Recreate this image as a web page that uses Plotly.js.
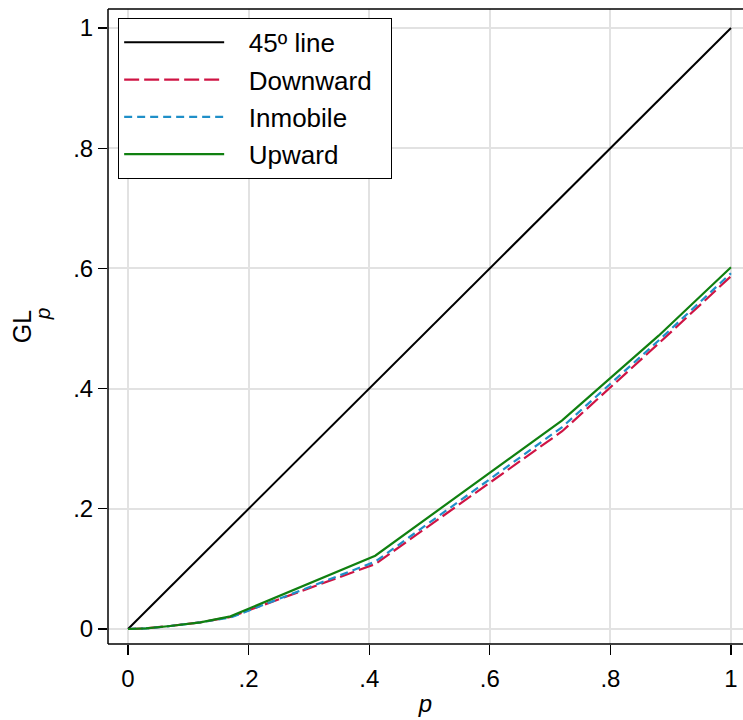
<!DOCTYPE html>
<html>
<head>
<meta charset="utf-8">
<script src="https://cdn.plot.ly/plotly-3.0.1.min.js"></script>
<style>html,body{margin:0;padding:0;background:#fff;overflow:hidden;}#chart{width:743px;height:720px;}</style>
</head>
<body>
<div id="chart"></div>
<script>
// Data (generalized Lorenz curves)
var seriesNames = ["45º line", "Downward", "Inmobile", "Upward"];
var lineP = [0, 1];
var lineGL = [0, 1];
var downP = [0, 0.03, 0.07, 0.12, 0.17, 0.41, 0.72, 0.88, 1];
var downGL = [0, 0.001, 0.005, 0.011, 0.020, 0.108, 0.329, 0.475, 0.587];
var inmoP = [0, 0.03, 0.07, 0.12, 0.17, 0.41, 0.72, 0.88, 1];
var inmoGL = [0, 0.001, 0.005, 0.011, 0.019, 0.112, 0.336, 0.480, 0.592];
var upP = [0, 0.03, 0.07, 0.12, 0.17, 0.41, 0.72, 0.88, 1];
var upGL = [0, 0.001, 0.005, 0.011, 0.021, 0.122, 0.347, 0.488, 0.602];
var tickVals = [0, 0.2, 0.4, 0.6, 0.8, 1];
var tickText = ["0", ".2", ".4", ".6", ".8", "1"];

var font = "Liberation Sans, Arial, Helvetica, sans-serif";
var lead = "\u00a0\u00a0\u2009";
var trail = "\u00a0\u00a0";
var traces = [
  {x: lineP, y: lineGL, name: lead + seriesNames[0] + trail, legendgroup: "a", mode: "lines",
   line: {color: "#000000", width: 2}},
  {x: downP, y: downGL, name: lead + seriesNames[1] + trail, legendgroup: "b", mode: "lines",
   line: {color: "#cf1444", width: 2.2, dash: "15px,5px"}},
  {x: inmoP, y: inmoGL, name: lead + seriesNames[2] + trail, legendgroup: "c", mode: "lines",
   line: {color: "#1f8fc8", width: 2.2, dash: "8px,5px"}},
  {x: upP, y: upGL, name: lead + seriesNames[3] + trail, legendgroup: "d", mode: "lines",
   line: {color: "#108010", width: 2.2}}
];
var layout = {
  width: 743, height: 720,
  margin: {l: 108, r: 0, t: 9, b: 76, pad: 0},
  paper_bgcolor: "#ffffff", plot_bgcolor: "#ffffff",
  font: {family: font, size: 24, color: "#000"},
  showlegend: true,
  legend: {
    x: 0.016, y: 0.986, xanchor: "left", yanchor: "top",
    bgcolor: "#ffffff", bordercolor: "#000000", borderwidth: 1,
    font: {family: font, size: 26, color: "#000"},
    traceorder: "grouped", tracegroupgap: 0.5, itemwidth: 100
  },
  xaxis: {
    range: [-0.0332, 1.0199], tickvals: tickVals, ticktext: tickText,
    showgrid: true, gridcolor: "#e2e2e2", gridwidth: 2, zeroline: false,
    showline: false,
    ticks: "outside", ticklen: 10, tickwidth: 1.2, tickcolor: "#000",
    tickfont: {family: font, size: 24}, ticklabelstandoff: 3,
    title: {text: "<i>p</i>", font: {family: font, size: 24}, standoff: 4}
  },
  yaxis: {
    range: [-0.025, 1.0316], tickvals: tickVals, ticktext: tickText,
    showgrid: true, gridcolor: "#e2e2e2", gridwidth: 2, zeroline: false,
    showline: false,
    ticks: "outside", ticklen: 9, tickwidth: 1.2, tickcolor: "#000",
    tickfont: {family: font, size: 24}, tickangle: 0,
    title: {text: "GL\u00a0\u00a0", font: {family: font, size: 25}, standoff: 34}
  },
  shapes: [
    {type: "line", xref: "paper", yref: "paper", x0: 0, x1: 1, y0: 1, y1: 1,
     line: {color: "#000", width: 1.5}, layer: "above"},
    {type: "line", xref: "paper", yref: "paper", x0: 0, x1: 1, y0: 0, y1: 0,
     line: {color: "#000", width: 1.5}, layer: "above"},
    {type: "line", xref: "paper", yref: "paper", x0: 0, x1: 0, y0: 0, y1: 1,
     line: {color: "#000", width: 1.5}, layer: "above"}
  ],
  annotations: [
    {text: "<i>p</i>", xref: "paper", yref: "paper", x: -0.104, y: 0.521,
     xanchor: "center", yanchor: "middle", textangle: -90, showarrow: false,
     font: {family: font, size: 21, color: "#000"}}
  ]
};
Plotly.newPlot("chart", traces, layout, {displayModeBar: false, staticPlot: true});
</script>
</body>
</html>
